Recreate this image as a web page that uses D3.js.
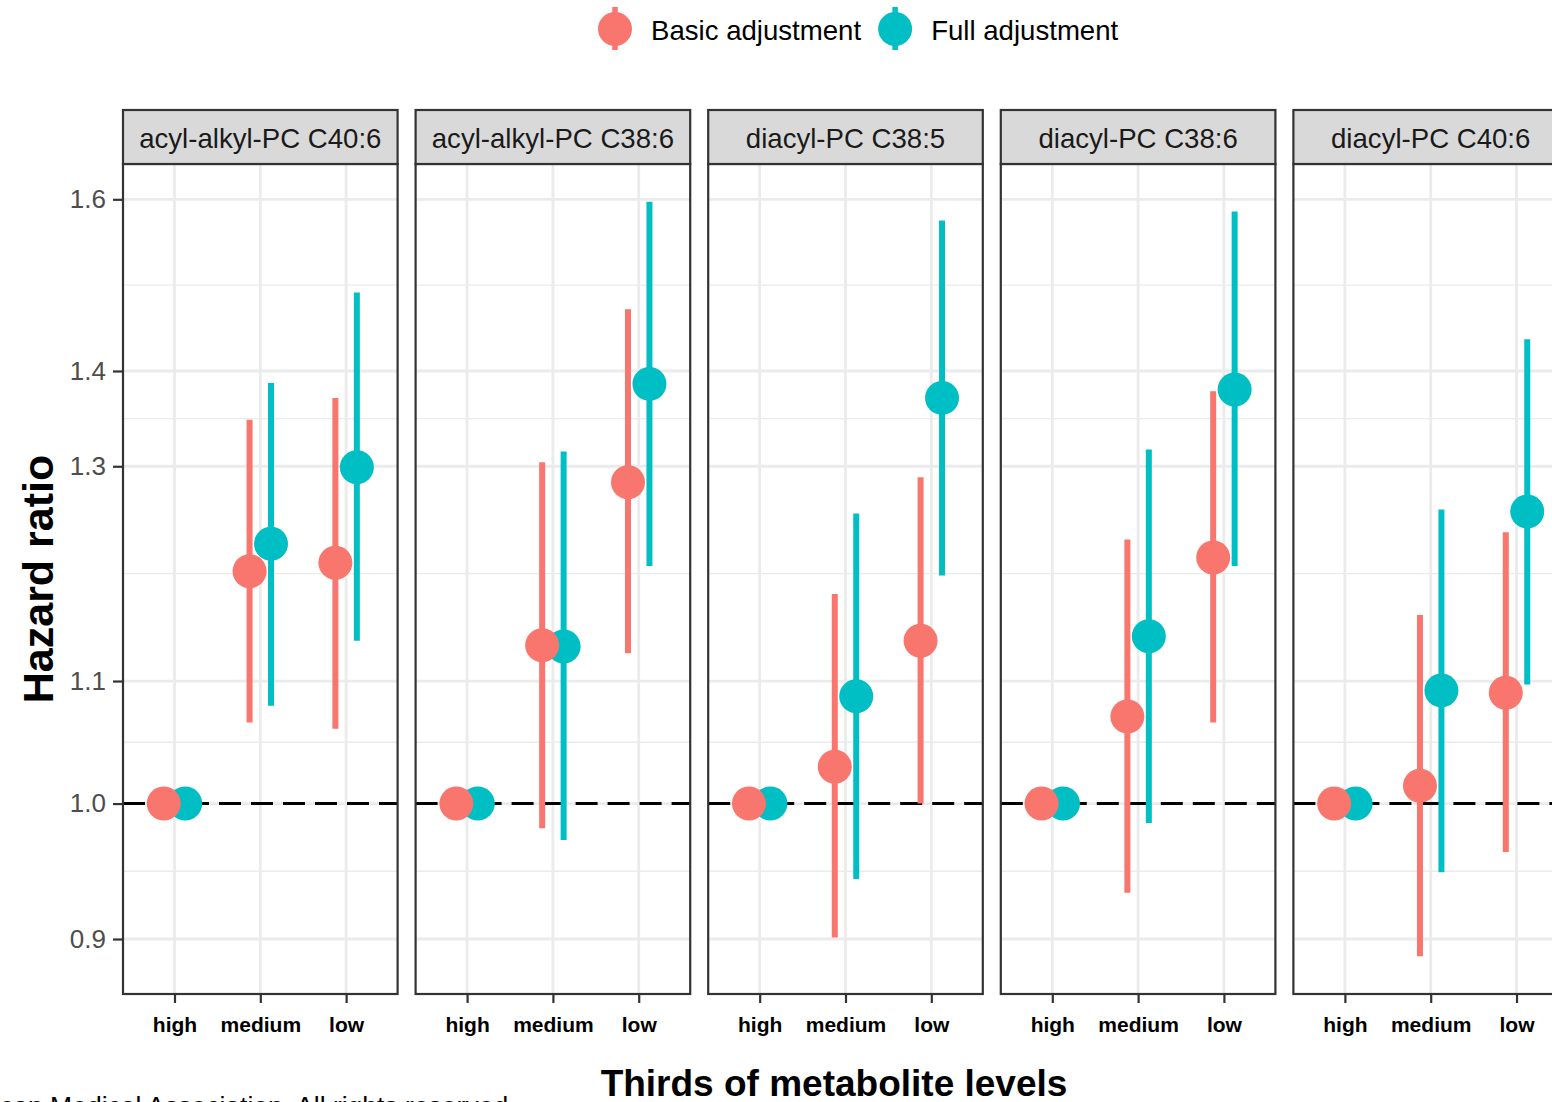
<!DOCTYPE html>
<html>
<head>
<meta charset="utf-8">
<script src="https://cdn.jsdelivr.net/npm/d3@7"></script>
<style>
body { margin: 0; background: #fff; overflow: hidden; }
svg { display: block; font-family: "Liberation Sans", Arial, sans-serif; }
</style>
</head>
<body>
<div id="chart"></div>
<script>
// DATA
var metabolites = ["acyl-alkyl-PC C40:6", "acyl-alkyl-PC C38:6", "diacyl-PC C38:5", "diacyl-PC C38:6", "diacyl-PC C40:6"];
var thirds = ["high", "medium", "low"];
var models = ["Basic adjustment", "Full adjustment"];
var yTicks = [0.9, 1.0, 1.1, 1.3, 1.4, 1.6];

// hazard ratios per panel, in order high / medium / low
var basicHR    = [[1, 1.198, 1.206], [1, 1.131, 1.284], [1, 1.029, 1.135], [1, 1.070, 1.211], [1, 1.014, 1.090]];
var basicLower = [[1, 1.065, 1.060], [1, 0.981, 1.124], [1, 0.901, 1.000], [1, 0.933, 1.065], [1, 0.888, 0.963]];
var basicUpper = [[1, 1.348, 1.371], [1, 1.304, 1.469], [1, 1.177, 1.289], [1, 1.228, 1.378], [1, 1.158, 1.235]];

var fullHR     = [[1, 1.224, 1.299], [1, 1.130, 1.386], [1, 1.087, 1.371], [1, 1.139, 1.380], [1, 1.092, 1.255]];
var fullLower  = [[1, 1.079, 1.135], [1, 0.972, 1.203], [1, 0.943, 1.194], [1, 0.985, 1.203], [1, 0.948, 1.097]];
var fullUpper  = [[1, 1.387, 1.488], [1, 1.315, 1.597], [1, 1.253, 1.574], [1, 1.317, 1.585], [1, 1.257, 1.435]];

// build rows (full first so basic points sit on top, like the original)
var rows = [];
[["Full adjustment", fullHR, fullLower, fullUpper],
 ["Basic adjustment", basicHR, basicLower, basicUpper]].forEach(function(m) {
    metabolites.forEach(function(met, i) {
        thirds.forEach(function(t, j) {
            rows.push({model: m[0], metabolite: met, third: t, hr: m[1][i][j], lo: m[2][i][j], hi: m[3][i][j]});
        });
    });
});

width = 1552;
height = 1102;
var stripTop = 110, stripH = 54, panelBottom = 994;
var panelTop = stripTop + stripH;

var color = d3.scaleOrdinal().domain(models).range(["#F8766D", "#00BFC4"]);

// log scale with 5% expansion like ggplot
var lmin = Math.log(d3.min(rows, d => d.lo)), lmax = Math.log(d3.max(rows, d => d.hi));
var pad = (lmax - lmin) * 0.05;
var y = d3.scaleLog()
    .domain([Math.exp(lmin - pad), Math.exp(lmax + pad)])
    .range([panelBottom, panelTop]);

// minor gridlines halfway (in log space) between the breaks
var minor = [];
for (var k = 1; k < yTicks.length; k++) minor.push(Math.sqrt(yTicks[k - 1] * yTicks[k]));

var facet = d3.scaleBand()
    .domain(metabolites)
    .range([123, 1568])
    .paddingInner(0.0615);
var bw = facet.bandwidth();

var x = d3.scalePoint().domain(thirds).range([0, bw]).padding(0.6);
var dodge = d3.scalePoint().domain(models).range([-x.step() * 0.125, x.step() * 0.125]);

const svg = d3.select("#chart").append("svg")
    .attr("width", width)
    .attr("height", height)
    .style("background", "white");

// LEGEND
const legend = svg.append("g");
var lx = 615;
models.forEach(function(m) {
    var g = legend.append("g").attr("transform", `translate(${lx},0)`);
    g.append("line")
        .attr("y1", 7).attr("y2", 50)
        .attr("stroke", color(m)).attr("stroke-width", 5.5);
    g.append("circle")
        .attr("cy", 29).attr("r", 17)
        .attr("fill", color(m));
    var t = g.append("text")
        .attr("x", 36).attr("y", 40)
        .style("font-size", "27.6px")
        .style("fill", "black")
        .text(m);
    lx += 36 + t.node().getComputedTextLength() + 34;
});

// PANELS
const panels = svg.selectAll("g.panel")
    .data(metabolites)
    .enter().append("g")
    .attr("class", "panel")
    .attr("transform", d => `translate(${facet(d)},0)`);

panels.each(function(met) {
    const p = d3.select(this);
    // grid
    p.selectAll("line.minor").data(minor).enter().append("line")
        .attr("x1", 0).attr("x2", bw)
        .attr("y1", d => y(d)).attr("y2", d => y(d))
        .attr("stroke", "#EBEBEB").attr("stroke-width", 1.4);
    p.selectAll("line.majory").data(yTicks).enter().append("line")
        .attr("x1", 0).attr("x2", bw)
        .attr("y1", d => y(d)).attr("y2", d => y(d))
        .attr("stroke", "#EBEBEB").attr("stroke-width", 2.8);
    p.selectAll("line.majorx").data(thirds).enter().append("line")
        .attr("x1", d => x(d)).attr("x2", d => x(d))
        .attr("y1", panelTop).attr("y2", panelBottom)
        .attr("stroke", "#EBEBEB").attr("stroke-width", 2.8);

    // reference line at HR = 1
    p.append("line")
        .attr("x1", 0).attr("x2", bw)
        .attr("y1", y(1)).attr("y2", y(1))
        .attr("stroke", "black").attr("stroke-width", 3)
        .attr("stroke-dasharray", "22,10");

    var sub = rows.filter(r => r.metabolite === met);

    p.selectAll("line.ci").data(sub).enter().append("line")
        .attr("class", "ci")
        .attr("x1", d => x(d.third) + dodge(d.model))
        .attr("x2", d => x(d.third) + dodge(d.model))
        .attr("y1", d => y(d.lo))
        .attr("y2", d => y(d.hi))
        .attr("stroke", d => color(d.model))
        .attr("stroke-width", 6);

    p.selectAll("circle.pt").data(sub).enter().append("circle")
        .attr("class", "pt")
        .attr("cx", d => x(d.third) + dodge(d.model))
        .attr("cy", d => y(d.hr))
        .attr("r", 17)
        .attr("fill", d => color(d.model));

    // border
    p.append("rect")
        .attr("x", 0).attr("y", panelTop)
        .attr("width", bw).attr("height", panelBottom - panelTop)
        .attr("fill", "none").attr("stroke", "#333333").attr("stroke-width", 2.2);

    // strip
    p.append("rect")
        .attr("x", 0).attr("y", stripTop)
        .attr("width", bw).attr("height", stripH)
        .attr("fill", "#D9D9D9").attr("stroke", "#333333").attr("stroke-width", 2.2);
    p.append("text")
        .attr("x", bw / 2).attr("y", 148)
        .attr("text-anchor", "middle")
        .style("font-size", "27.6px")
        .style("fill", "#1A1A1A")
        .text(met);

    // x axis
    const xa = p.append("g")
        .attr("transform", `translate(0,${panelBottom})`)
        .call(d3.axisBottom(x).tickSize(9).tickPadding(14));
    xa.select(".domain").remove();
    xa.selectAll(".tick line").attr("stroke", "#333333").attr("stroke-width", 2.2);
    xa.selectAll(".tick text")
        .style("font-family", "'Liberation Sans', Arial, sans-serif")
        .style("font-size", "21px")
        .style("font-weight", "bold")
        .style("fill", "black");
});

// y axis (left panel only)
const ya = svg.append("g")
    .attr("transform", `translate(${facet(metabolites[0])},0)`)
    .call(d3.axisLeft(y).tickValues(yTicks).tickFormat(d3.format(".1f")).tickSize(10).tickPadding(7));
ya.select(".domain").remove();
ya.selectAll(".tick line").attr("stroke", "#333333").attr("stroke-width", 2.2);
ya.selectAll(".tick text")
    .style("font-family", "'Liberation Sans', Arial, sans-serif")
    .style("font-size", "26px")
    .style("fill", "#4D4D4D");

// axis titles
svg.append("text")
    .attr("transform", `translate(53,${(panelTop + panelBottom) / 2}) rotate(-90)`)
    .attr("text-anchor", "middle")
    .style("font-size", "43px")
    .style("font-weight", "bold")
    .style("fill", "black")
    .text("Hazard ratio");

svg.append("text")
    .attr("x", 834).attr("y", 1096)
    .attr("text-anchor", "middle")
    .style("font-size", "37px")
    .style("font-weight", "bold")
    .style("fill", "black")
    .text("Thirds of metabolite levels");

// cropped copyright line at the very bottom
svg.append("text")
    .attr("x", 0).attr("y", 1115)
    .style("font-size", "26.5px")
    .style("fill", "black")
    .text("can Medical Association. All rights reserved");
</script>
</body>
</html>
